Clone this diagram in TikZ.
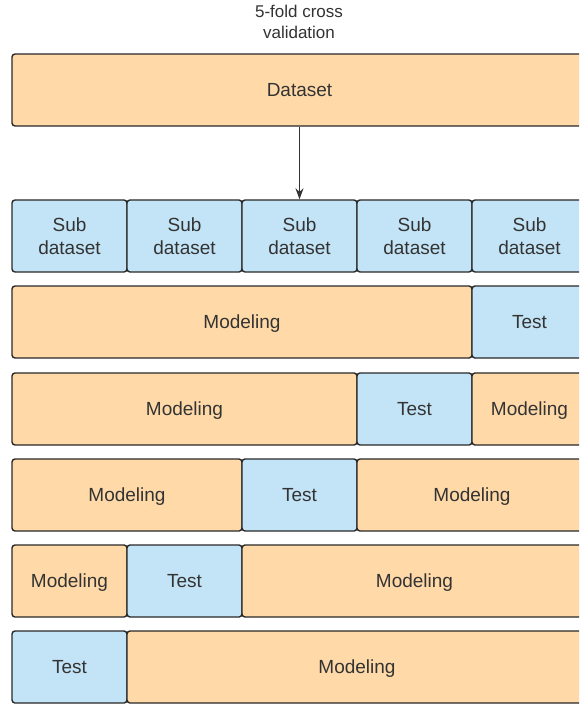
\documentclass[tikz,border=0pt]{standalone}
\usepackage{fontspec}
\setmainfont{Liberation Sans}
\usetikzlibrary{arrows.meta}
\definecolor{modfill}{HTML}{FFDAA8}
\definecolor{testfill}{HTML}{C3E4F6}
\definecolor{ink}{HTML}{333333}
\tikzset{
  cell/.style={draw=ink!80!black, line width=1.4pt, rounded corners=3pt,
    minimum height=72pt, inner sep=0pt, text=ink, font=\fontsize{19}{23}\selectfont,
    align=center},
  oneline/.style={text height=15pt, text depth=2pt},
  model/.style={cell, oneline, fill=modfill},
  testbox/.style={cell, oneline, fill=testfill},
  subbox/.style={cell, fill=testfill},
  link/.style={draw=ink, line width=1.1pt, -{Stealth[length=11pt,width=8pt]}},
}
\begin{document}
\begin{tikzpicture}[x=1pt, y=-1pt]
\useasboundingbox (0,0) rectangle (579,706);
\clip (0,0) rectangle (579,706);
\fill[white] (0,0) rectangle (579,706);

\node[text=ink, font=\fontsize{17}{21}\selectfont, align=center] (title) at (299,22) {5-fold cross\\validation};

% whole dataset
\node[model, minimum width=575pt] (data) at (299.5,90) {Dataset};

% five folds
\node[subbox, minimum width=115pt] (s1) at (69.5,236) {Sub\\dataset};
\node[subbox, minimum width=115pt] (s2) at (184.5,236) {Sub\\dataset};
\node[subbox, minimum width=115pt] (s3) at (299.5,236) {Sub\\dataset};
\node[subbox, minimum width=115pt] (s4) at (414.5,236) {Sub\\dataset};
\node[subbox, minimum width=115pt] (s5) at (529.5,236) {Sub\\dataset};

\draw[link] (data.south -| s3) -- (s3.north);

% split 1
\node[model, minimum width=460pt] (r1m) at (242,322) {Modeling};
\node[testbox, minimum width=115pt] (r1t) at (529.5,322) {Test};

% split 2
\node[model, minimum width=345pt] (r2m) at (184.5,409) {Modeling};
\node[testbox, minimum width=115pt] (r2t) at (414.5,409) {Test};
\node[model, minimum width=115pt] (r2n) at (529.5,409) {Modeling};

% split 3
\node[model, minimum width=230pt] (r3m) at (127,495) {Modeling};
\node[testbox, minimum width=115pt] (r3t) at (299.5,495) {Test};
\node[model, minimum width=230pt] (r3n) at (472,495) {Modeling};

% split 4
\node[model, minimum width=115pt] (r4m) at (69.5,581) {Modeling};
\node[testbox, minimum width=115pt] (r4t) at (184.5,581) {Test};
\node[model, minimum width=345pt] (r4n) at (414.5,581) {Modeling};

% split 5
\node[testbox, minimum width=115pt] (r5t) at (69.5,667) {Test};
\node[model, minimum width=460pt] (r5n) at (357,667) {Modeling};
\end{tikzpicture}
\end{document}
